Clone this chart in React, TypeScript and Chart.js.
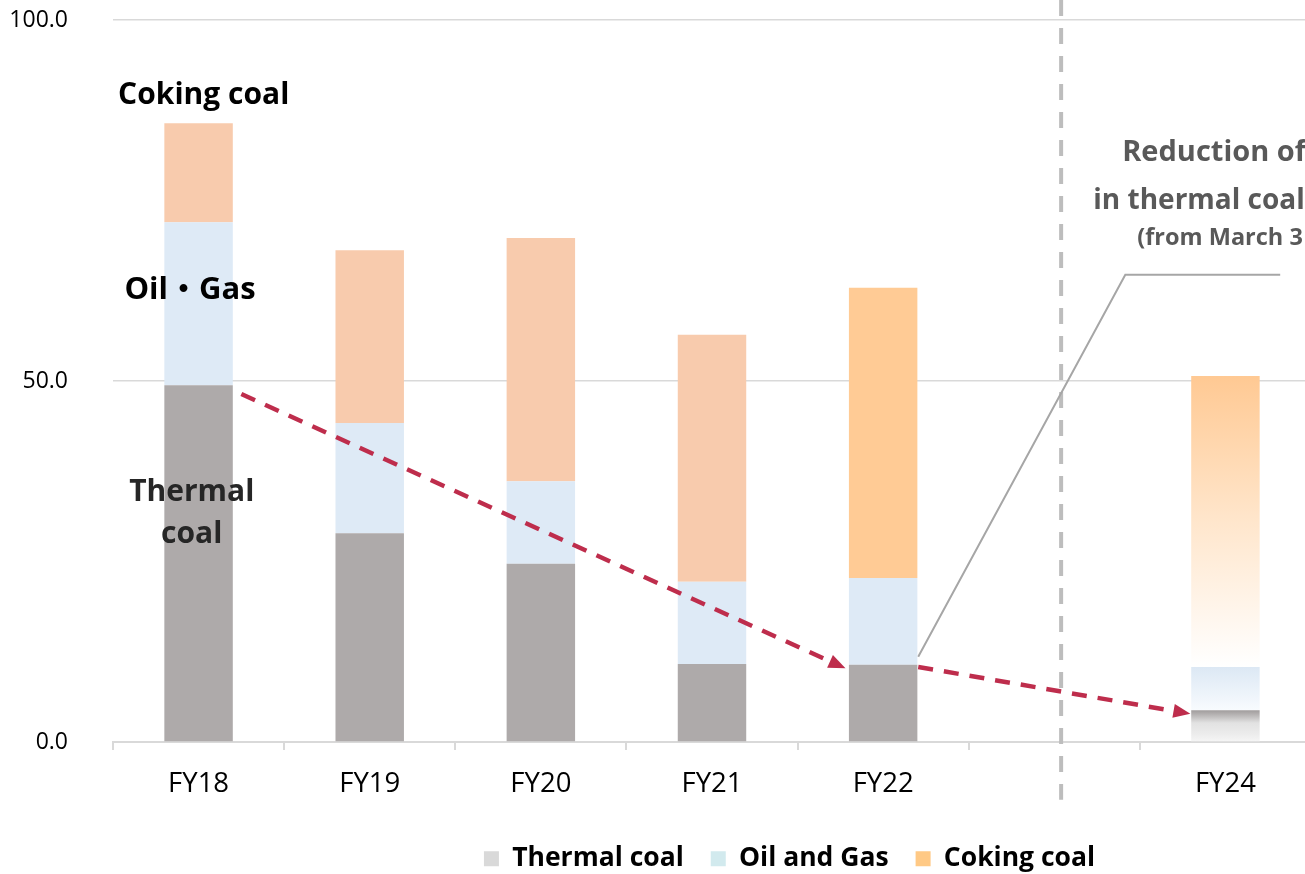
import React, { useEffect, useRef } from 'react';
import { Chart, registerables } from 'chart.js';

Chart.register(...registerables);

// ---- data ----
const categories = ['FY18', 'FY19', 'FY20', 'FY21', 'FY22', '', 'FY24'];
const thermalCoal = [49.4, 28.9, 24.7, 10.8, 10.7, null, 4.4];
const oilAndGas = [22.6, 15.3, 11.4, 11.4, 12.0, null, 6.0];
const cokingCoal = [13.7, 23.9, 33.7, 34.2, 40.2, null, 40.3];
const yTicks = [0, 50, 100];
const seriesNames = ['Thermal coal', 'Oil and Gas', 'Coking coal'];

// ---- styles ----
const FONT = "'Open Sans', 'Noto Sans CJK JP', sans-serif";
const barColors = ['#AEAAAA', '#DEEAF6', '#F8CBAD'];
const legendColors = ['#D9D9D9', '#D2EAEE', '#FFC985'];
const highlightCoking = '#FFCB95';
const FUTURE_INDEX = 6;
const HIGHLIGHT_INDEX = 4;
const fadeStops: [number, string][][] = [
  [[0, '#A09C9C'], [0.15, '#B8B5B5'], [0.4, '#E2E2E2'], [0.75, '#ECECEC'], [1, '#F6F6F6']],
  [[0, '#DCE8F4'], [1, '#F8FBFE']],
  [[0, '#FFC993'], [0.5, '#FFE6CC'], [1, '#FFFFFF']],
];

// annotations (category index, value)
const textNotes = [
  { text: 'Coking coal', x: 0.03, y: 89.6, size: 30, color: '#000000', align: 'center' },
  { text: 'Oil・Gas', x: -0.05, y: 62.6, size: 31, color: '#000000', align: 'center' },
  { text: 'Thermal', x: -0.04, y: 34.5, size: 30, color: '#262626', align: 'center' },
  { text: 'coal', x: -0.04, y: 28.7, size: 30, color: '#262626', align: 'center' },
  { text: 'Reduction of', x: 5.397, y: 81.6, size: 29, color: '#595959', align: 'left' },
  { text: 'in thermal coal', x: 5.228, y: 74.9, size: 28, color: '#595959', align: 'left' },
  { text: '(from March 3', x: 5.485, y: 69.7, size: 23.5, color: '#595959', align: 'left' },
];
const trendArrows = [
  { from: [0.25, 48.2], to: [3.78, 10.2] },
  { from: [4.205, 10.4], to: [5.795, 3.9] },
];
const leaderLine = [[4.205, 11.8], [5.415, 64.7], [6.32, 64.7]];
const dividerIndex = 5.04;
const dividerBottomValue = -8;

function stackBounds(datasetIndex: number, dataIndex: number) {
  const series = [thermalCoal, oilAndGas, cokingCoal];
  let base = 0;
  for (let i = 0; i < datasetIndex; i++) base += (series[i][dataIndex] as number) || 0;
  return [base, base + ((series[datasetIndex][dataIndex] as number) || 0)];
}

function makeFill(datasetIndex: number) {
  return (c: any) => {
    const base = barColors[datasetIndex];
    if (c.type !== 'data') return base;
    if (datasetIndex === 2 && c.dataIndex === HIGHLIGHT_INDEX) return highlightCoking;
    if (c.dataIndex !== FUTURE_INDEX) return base;
    const chart = c.chart;
    if (!chart.chartArea || !chart.scales.y) return base;
    const [lo, hi] = stackBounds(datasetIndex, c.dataIndex);
    const yTop = chart.scales.y.getPixelForValue(hi);
    const yBot = chart.scales.y.getPixelForValue(lo);
    if (!isFinite(yTop) || !isFinite(yBot) || yTop === yBot) return base;
    const g = chart.ctx.createLinearGradient(0, yTop, 0, yBot);
    fadeStops[datasetIndex].forEach(([o, col]) => g.addColorStop(o, col));
    return g;
  };
}

const overlayPlugin = {
  id: 'overlay',
  afterLayout(chart: any) {
    const lg = chart.legend;
    if (lg) {
      lg.left += 134;
      lg.right += 134;
    }
  },
  afterDatasetsDraw(chart: any) {
    const { ctx, scales } = chart;
    const xs = scales.x;
    const ys = scales.y;
    const p0 = xs.getPixelForValue(0);
    const step = xs.getPixelForValue(1) - p0;
    const px = (i: number) => p0 + step * i;
    const py = (v: number) => ys.getPixelForValue(v);

    ctx.save();
    // divider
    ctx.strokeStyle = '#BDBDBD';
    ctx.lineWidth = 4;
    ctx.setLineDash([16, 12]);
    ctx.beginPath();
    ctx.moveTo(px(dividerIndex), 0);
    ctx.lineTo(px(dividerIndex), py(dividerBottomValue));
    ctx.stroke();

    // leader line
    ctx.setLineDash([]);
    ctx.strokeStyle = '#A6A6A6';
    ctx.lineWidth = 2;
    ctx.beginPath();
    leaderLine.forEach(([i, v], k) => {
      if (k === 0) ctx.moveTo(px(i), py(v));
      else ctx.lineTo(px(i), py(v));
    });
    ctx.stroke();

    // arrows
    trendArrows.forEach(({ from, to }) => {
      const x1 = px(from[0]);
      const y1 = py(from[1]);
      const x2 = px(to[0]);
      const y2 = py(to[1]);
      const ang = Math.atan2(y2 - y1, x2 - x1);
      const headLen = 17;
      const headW = 7;
      const cx = Math.cos(ang);
      const sy = Math.sin(ang);
      ctx.strokeStyle = '#BE2D4C';
      ctx.fillStyle = '#BE2D4C';
      ctx.lineWidth = 4.5;
      ctx.setLineDash([15, 11]);
      ctx.beginPath();
      ctx.moveTo(x1, y1);
      ctx.lineTo(x2 - cx * headLen, y2 - sy * headLen);
      ctx.stroke();
      ctx.setLineDash([]);
      ctx.beginPath();
      ctx.moveTo(x2, y2);
      ctx.lineTo(x2 - cx * headLen - sy * headW, y2 - sy * headLen + cx * headW);
      ctx.lineTo(x2 - cx * headLen + sy * headW, y2 - sy * headLen - cx * headW);
      ctx.closePath();
      ctx.fill();
    });

    // texts
    ctx.textBaseline = 'middle';
    textNotes.forEach((n) => {
      ctx.font = `bold ${n.size}px ${FONT}`;
      ctx.fillStyle = n.color;
      ctx.textAlign = n.align as CanvasTextAlign;
      ctx.fillText(n.text, px(n.x), py(n.y));
    });
    ctx.restore();
  },
};

export default function App() {
  const ref = useRef<HTMLCanvasElement | null>(null);

  useEffect(() => {
    if (!ref.current) return;
    Chart.defaults.font.family = FONT;
    const seriesData = [thermalCoal, oilAndGas, cokingCoal];
    const chart = new Chart(ref.current, {
      type: 'bar',
      data: {
        labels: categories,
        datasets: seriesData.map((d, i) => ({
          label: seriesNames[i],
          data: d,
          backgroundColor: makeFill(i),
          borderWidth: 0,
          barPercentage: 0.4,
          categoryPercentage: 1.0,
        })),
      },
      options: {
        responsive: false,
        animation: false,
        devicePixelRatio: 1,
        layout: { padding: { left: 0, right: 9, top: 20, bottom: 0 } },
        plugins: {
          tooltip: { enabled: false },
          legend: {
            position: 'bottom',
            labels: {
              boxWidth: 15,
              boxHeight: 15,
              padding: 27,
              color: '#000000',
              font: { size: 26.5, weight: 'bold', family: FONT },
              generateLabels: () =>
                seriesNames.map((name, i) => ({
                  text: name,
                  fillStyle: legendColors[i],
                  strokeStyle: legendColors[i],
                  lineWidth: 0,
                  hidden: false,
                  datasetIndex: i,
                  fontColor: '#000000',
                })),
            },
          },
        },
        scales: {
          x: {
            stacked: true,
            offset: true,
            grid: {
              offset: true,
              drawOnChartArea: false,
              drawTicks: true,
              tickLength: 8,
              color: '#D9D9D9',
              lineWidth: 2,
            },
            border: { color: '#D9D9D9', width: 2 },
            ticks: {
              color: '#000000',
              font: { size: 27.5, family: FONT },
              padding: 18,
              maxRotation: 0,
              autoSkip: false,
            },
            afterFit: (s: any) => {
              s.height = 76.5;
            },
          },
          y: {
            stacked: true,
            min: 0,
            max: 100,
            grid: { color: '#D9D9D9', lineWidth: 1.5, drawTicks: false },
            border: { display: false },
            ticks: {
              color: '#000000',
              font: { size: 23, family: FONT },
              padding: 45,
              callback: (v: any) => Number(v).toFixed(1),
            },
            afterBuildTicks: (s: any) => {
              s.ticks = yTicks.map((v) => ({ value: v }));
            },
            afterFit: (s: any) => {
              s.width = 113;
              s.paddingTop = 14;
              s.paddingBottom = 0;
            },
          },
        },
      },
      plugins: [overlayPlugin],
    });
    return () => chart.destroy();
  }, []);

  return (
    <div
      style={{
        position: 'fixed',
        left: 0,
        top: 0,
        width: 1305,
        height: 874,
        overflow: 'hidden',
        background: '#ffffff',
      }}
    >
      <canvas ref={ref} width={1320} height={882} style={{ display: 'block', width: 1320, height: 882 }} />
    </div>
  );
}
